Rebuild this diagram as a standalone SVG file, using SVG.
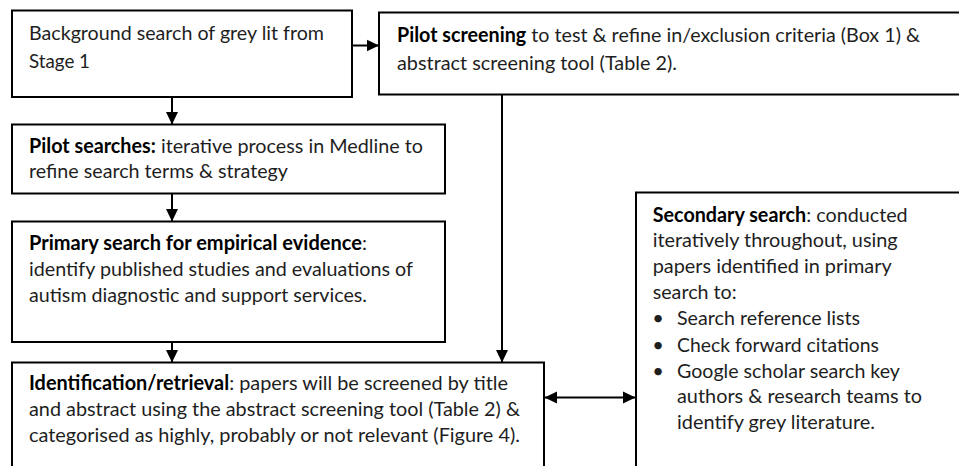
<svg xmlns="http://www.w3.org/2000/svg" width="959" height="466" viewBox="0 0 959 466">
<style>
.box{fill:#fff;stroke:#000;stroke-width:2}
.t{font-family:Lato,"Liberation Sans",sans-serif;font-size:20px;fill:#1e1e1e}
.b{font-weight:bold;fill:#000}
.c{fill:none;stroke:#000;stroke-width:2}
</style>
<defs>
<marker id="ah" markerUnits="userSpaceOnUse" markerWidth="13" markerHeight="13" viewBox="0 0 13 13" refX="12" refY="6.5" orient="auto-start-reverse"><path d="M0,0.5 L12.5,6.5 L0,12.5 Z" fill="#000"/></marker>
</defs>
<rect width="959" height="466" fill="#fff"/>
<g id="connectors">
<line class="c" x1="352" y1="45.5" x2="378.5" y2="45.5" marker-end="url(#ah)"/>
<line class="c" x1="172" y1="97" x2="172" y2="124" marker-end="url(#ah)"/>
<line class="c" x1="172" y1="194" x2="172" y2="221" marker-end="url(#ah)"/>
<line class="c" x1="172" y1="342" x2="172" y2="362" marker-end="url(#ah)"/>
<line class="c" x1="502" y1="94.5" x2="502" y2="362" marker-end="url(#ah)"/>
<line class="c" x1="545" y1="397.5" x2="635" y2="397.5" marker-start="url(#ah)" marker-end="url(#ah)"/>
</g>
<g id="background">
<rect class="box" x="12" y="10.5" width="340" height="86.5"/>
<text class="t" x="29" y="39.5" textLength="295" lengthAdjust="spacingAndGlyphs">Background search of grey lit from</text>
<text class="t" x="29" y="67.5" textLength="61" lengthAdjust="spacingAndGlyphs">Stage 1</text>
</g>
<g id="pilot-screening">
<rect class="box" x="379" y="12.5" width="600" height="82"/>
<text class="t" x="397" y="41.5" textLength="523" lengthAdjust="spacingAndGlyphs"><tspan class="b">Pilot screening</tspan> to test &amp; refine in/exclusion criteria (Box 1) &amp;</text>
<text class="t" x="397" y="70" textLength="280" lengthAdjust="spacingAndGlyphs">abstract screening tool (Table 2).</text>
</g>
<g id="pilot-searches">
<rect class="box" x="12" y="124.5" width="433" height="69"/>
<text class="t" x="29" y="152.5" textLength="394" lengthAdjust="spacingAndGlyphs"><tspan class="b">Pilot searches:</tspan> iterative process in Medline to</text>
<text class="t" x="29" y="178.3" textLength="259" lengthAdjust="spacingAndGlyphs">refine search terms &amp; strategy</text>
</g>
<g id="primary-search">
<rect class="box" x="12" y="221.5" width="433" height="120.5"/>
<text class="t" x="29" y="250" textLength="338" lengthAdjust="spacingAndGlyphs"><tspan class="b">Primary search for empirical evidence</tspan>:</text>
<text class="t" x="29" y="276" textLength="384" lengthAdjust="spacingAndGlyphs">identify published studies and evaluations of</text>
<text class="t" x="29" y="301.7" textLength="338" lengthAdjust="spacingAndGlyphs">autism diagnostic and support services.</text>
</g>
<g id="identification">
<rect class="box" x="12" y="362.5" width="532" height="120"/>
<text class="t" x="29" y="390" textLength="479" lengthAdjust="spacingAndGlyphs"><tspan class="b">Identification/retrieval</tspan>: papers will be screened by title</text>
<text class="t" x="29" y="416" textLength="491" lengthAdjust="spacingAndGlyphs">and abstract using the abstract screening tool (Table 2) &amp;</text>
<text class="t" x="29" y="442.3" textLength="491" lengthAdjust="spacingAndGlyphs">categorised as highly, probably or not relevant (Figure 4).</text>
</g>
<g id="secondary-search">
<rect class="box" x="636" y="192.5" width="340" height="290"/>
<text class="t" x="652.7" y="221.7" textLength="255" lengthAdjust="spacingAndGlyphs"><tspan class="b">Secondary search</tspan>: conducted</text>
<text class="t" x="652.7" y="247.3" textLength="245" lengthAdjust="spacingAndGlyphs">iteratively throughout, using</text>
<text class="t" x="652.7" y="272.7" textLength="239" lengthAdjust="spacingAndGlyphs">papers identified in primary</text>
<text class="t" x="652.7" y="298.7" textLength="84" lengthAdjust="spacingAndGlyphs">search to:</text>
<text class="t" x="658" y="325" text-anchor="middle">•</text>
<text class="t" x="677" y="325" textLength="183" lengthAdjust="spacingAndGlyphs">Search reference lists</text>
<text class="t" x="658" y="351.7" text-anchor="middle">•</text>
<text class="t" x="677" y="351.7" textLength="202" lengthAdjust="spacingAndGlyphs">Check forward citations</text>
<text class="t" x="658" y="378.3" text-anchor="middle">•</text>
<text class="t" x="677" y="378.3" textLength="223" lengthAdjust="spacingAndGlyphs">Google scholar search key</text>
<text class="t" x="677" y="403.3" textLength="245" lengthAdjust="spacingAndGlyphs">authors &amp; research teams to</text>
<text class="t" x="677" y="429" textLength="198" lengthAdjust="spacingAndGlyphs">identify grey literature.</text>
</g>
</svg>
